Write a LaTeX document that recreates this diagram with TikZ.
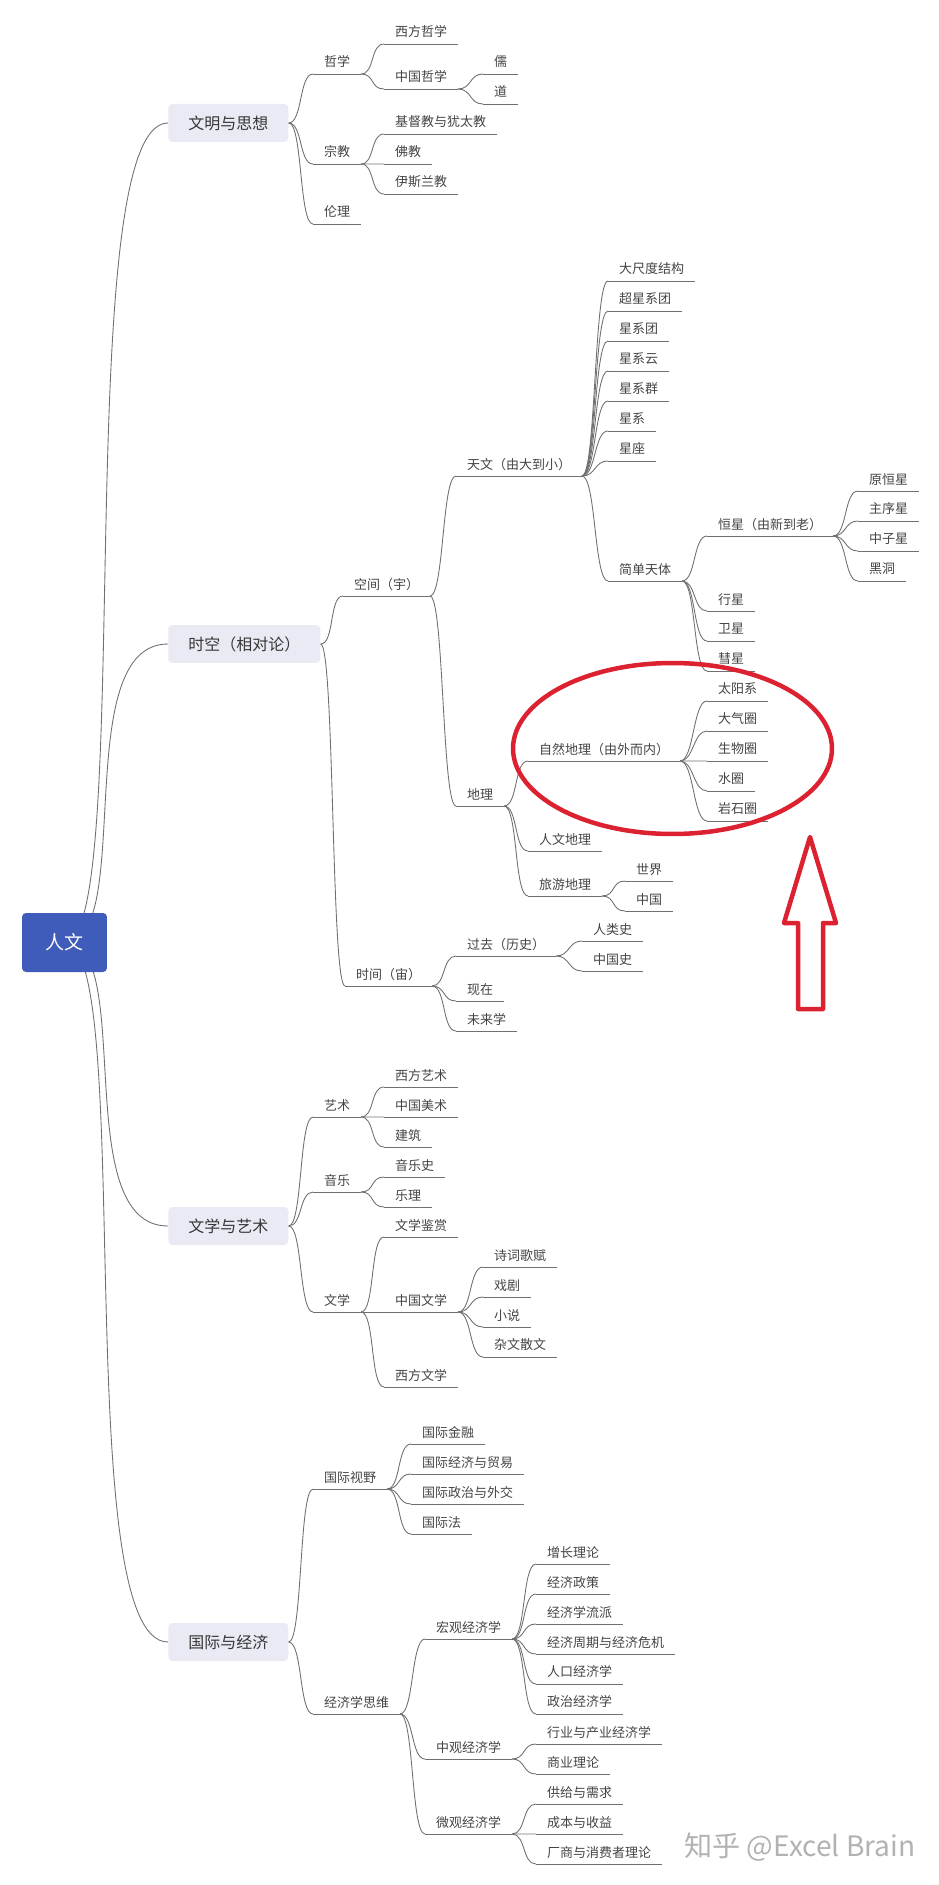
\documentclass[tikz,border=0pt]{standalone}
\usepackage{fontspec}
\setmainfont{Noto Sans CJK SC}
\usetikzlibrary{shapes.geometric,positioning,backgrounds}
\definecolor{rootblue}{HTML}{405CBA}
\definecolor{mainfill}{HTML}{E9EAF3}
\definecolor{linegray}{HTML}{707070}
\definecolor{textgray}{HTML}{444444}
\definecolor{markred}{HTML}{DC2230}

\begin{document}
\begin{tikzpicture}[
    x=0.02cm, y=-0.02cm,
    root/.style={rectangle, fill=rootblue, rounded corners=0.08cm, minimum width=1.7cm, minimum height=1.18cm, text=white, font=\fontsize{10.8}{12}\selectfont},
    mainbox/.style={rectangle, fill=mainfill, rounded corners=0.08cm, anchor=west, inner xsep=0.4cm, inner ysep=0cm, minimum height=0.76cm, text=textgray!80!black, font=\fontsize{9.1}{11}\selectfont},
    topic/.style={rectangle, anchor=south west, inner xsep=0.22cm, inner ysep=0cm, outer sep=0cm, text height=0.46cm, text depth=0.14cm, text=textgray, font=\fontsize{7.4}{9}\selectfont,
        append after command={(\tikzlastnode.south west) edge[rule] (\tikzlastnode.south east)}},
    under/.style={below=0cm of #1.south west, anchor=north west},
    rule/.style={draw=linegray, line width=0.5pt, to path={-- (\tikztotarget)}},
    link/.style={draw=linegray, line width=0.5pt, to path={.. controls +(14,0) and +(-14,0) .. (\tikztotarget)}},
    trunk/.style={draw=linegray, line width=0.5pt, to path={.. controls +(72,0) and +(-100,0) .. (\tikztotarget)}},
    redmark/.style={draw=markred, line width=0.09cm, line join=round}
]
\useasboundingbox (0,0) rectangle (939,1885);

% Root and main branches
\node[root] (human) at (64.5,942.5) {人文};
\node[mainbox] (civ) at (168,123) {文明与思想};
\node[mainbox] (space) at (168,644) {时空（相对论）};
\node[mainbox] (arts) at (168,1226) {文学与艺术};
\node[mainbox] (econ) at (168,1642) {国际与经济};

% Civilisation
\node[topic] (phil) at (313,74) {哲学};
\node[topic] (westphil) at (384,44) {西方哲学};
\node[topic] (chinaphil) at (384,89) {中国哲学};
\node[topic] (ru) at (483,74) {儒};
\node[topic, under=ru] (dao) {道};
\node[topic] (relig) at (313,164) {宗教};
\node[topic] (christ) at (384,134) {基督教与犹太教};
\node[topic, under=christ] (buddh) {佛教};
\node[topic, under=buddh] (islam) {伊斯兰教};
\node[topic] (ethics) at (313,224) {伦理};

% Space
\node[topic] (spacepart) at (343,596) {空间（宇）};
\node[topic] (astro) at (456,476) {天文（由大到小）};
\node[topic] (scale) at (608,281) {大尺度结构};
\node[topic, under=scale] (superclu) {超星系团};
\node[topic, under=superclu] (cluster) {星系团};
\node[topic, under=cluster] (cloud) {星系云};
\node[topic, under=cloud] (group) {星系群};
\node[topic, under=group] (galaxy) {星系};
\node[topic, under=galaxy] (constel) {星座};
\node[topic] (simple) at (608,581) {简单天体};
\node[topic] (star) at (707,536) {恒星（由新到老）};
\node[topic] (proto) at (858,491) {原恒星};
\node[topic, under=proto] (mainseq) {主序星};
\node[topic, under=mainseq] (neutron) {中子星};
\node[topic, under=neutron] (hole) {黑洞};
\node[topic] (planet) at (707,611) {行星};
\node[topic, under=planet] (moon) {卫星};
\node[topic, under=moon] (comet) {彗星};
\node[topic, under=comet] (solar) {太阳系};
\node[topic, under=solar] (air) {大气圈};
\node[topic, under=air] (bio) {生物圈};
\node[topic, under=bio] (water) {水圈};
\node[topic, under=water] (rock) {岩石圈};
\node[topic] (geo) at (456,806) {地理};
\node[topic] (natgeo) at (528,761) {自然地理（由外而内）};
\node[topic] (humgeo) at (528,851) {人文地理};
\node[topic] (travel) at (528,896) {旅游地理};
\node[topic] (world) at (625,881) {世界};
\node[topic, under=world] (china) {中国};

% Time
\node[topic] (timepart) at (345,986) {时间（宙）};
\node[topic] (past) at (456,956) {过去（历史）};
\node[topic] (mankind) at (582,941) {人类史};
\node[topic, under=mankind] (chinahist) {中国史};
\node[topic] (now) at (456,1001) {现在};
\node[topic, under=now] (future) {未来学};

% Arts
\node[topic] (art) at (313,1117) {艺术};
\node[topic] (westart) at (384,1087) {西方艺术};
\node[topic, under=westart] (chinaart) {中国美术};
\node[topic, under=chinaart] (build) {建筑};
\node[topic] (music) at (313,1192) {音乐};
\node[topic] (musichist) at (384,1177) {音乐史};
\node[topic, under=musichist] (theory) {乐理};
\node[topic] (lit) at (313,1312) {文学};
\node[topic] (appraise) at (384,1237) {文学鉴赏};
\node[topic] (chinalit) at (384,1312) {中国文学};
\node[topic] (poem) at (483,1267) {诗词歌赋};
\node[topic, under=poem] (drama) {戏剧};
\node[topic, under=drama] (novel) {小说};
\node[topic, under=novel] (essay) {杂文散文};
\node[topic] (westlit) at (384,1387) {西方文学};

% Economy
\node[topic] (global) at (313,1489) {国际视野};
\node[topic] (finance) at (411,1444) {国际金融};
\node[topic, under=finance] (trade) {国际经济与贸易};
\node[topic, under=trade] (politics) {国际政治与外交};
\node[topic, under=politics] (law) {国际法};
\node[topic] (thinking) at (313,1714) {经济学思维};
\node[topic] (macro) at (425,1639) {宏观经济学};
\node[topic] (growth) at (536,1564) {增长理论};
\node[topic, under=growth] (policy) {经济政策};
\node[topic, under=policy] (school) {经济学流派};
\node[topic, under=school] (cycle) {经济周期与经济危机};
\node[topic, under=cycle] (popul) {人口经济学};
\node[topic, under=popul] (polecon) {政治经济学};
\node[topic] (meso) at (425,1759) {中观经济学};
\node[topic] (industry) at (536,1744) {行业与产业经济学};
\node[topic, under=industry] (business) {商业理论};
\node[topic] (micro) at (425,1834) {微观经济学};
\node[topic] (supply) at (536,1804) {供给与需求};
\node[topic, under=supply] (cost) {成本与收益};
\node[topic, under=cost] (firm) {厂商与消费者理论};

% Links
\begin{scope}[on background layer]
\path[trunk] (human.center) edge (civ.west) edge (space.west) edge (arts.west) edge (econ.west);
\end{scope}
\path[link] (civ.east) edge (phil.south west) edge (relig.south west) edge (ethics.south west);
\path[link] (phil.south east) edge (westphil.south west) edge (chinaphil.south west);
\path[link] (chinaphil.south east) edge (ru.south west) edge (dao.south west);
\path[link] (relig.south east) edge (christ.south west) edge (buddh.south west) edge (islam.south west);
\path[link] (space.east) edge (spacepart.south west) edge (timepart.south west);
\path[link] (spacepart.south east) edge (astro.south west) edge (geo.south west);
\path[link] (astro.south east) edge (scale.south west) edge (superclu.south west) edge (cluster.south west) edge (cloud.south west) edge (group.south west) edge (galaxy.south west) edge (constel.south west) edge (simple.south west);
\path[link] (simple.south east) edge (star.south west) edge (planet.south west) edge (moon.south west) edge (comet.south west);
\path[link] (star.south east) edge (proto.south west) edge (mainseq.south west) edge (neutron.south west) edge (hole.south west);
\path[link] (geo.south east) edge (natgeo.south west) edge (humgeo.south west) edge (travel.south west);
\path[link] (natgeo.south east) edge (solar.south west) edge (air.south west) edge (bio.south west) edge (water.south west) edge (rock.south west);
\path[link] (travel.south east) edge (world.south west) edge (china.south west);
\path[link] (timepart.south east) edge (past.south west) edge (now.south west) edge (future.south west);
\path[link] (past.south east) edge (mankind.south west) edge (chinahist.south west);
\path[link] (arts.east) edge (art.south west) edge (music.south west) edge (lit.south west);
\path[link] (art.south east) edge (westart.south west) edge (chinaart.south west) edge (build.south west);
\path[link] (music.south east) edge (musichist.south west) edge (theory.south west);
\path[link] (lit.south east) edge (appraise.south west) edge (chinalit.south west) edge (westlit.south west);
\path[link] (chinalit.south east) edge (poem.south west) edge (drama.south west) edge (novel.south west) edge (essay.south west);
\path[link] (econ.east) edge (global.south west) edge (thinking.south west);
\path[link] (global.south east) edge (finance.south west) edge (trade.south west) edge (politics.south west) edge (law.south west);
\path[link] (thinking.south east) edge (macro.south west) edge (meso.south west) edge (micro.south west);
\path[link] (macro.south east) edge (growth.south west) edge (policy.south west) edge (school.south west) edge (cycle.south west) edge (popul.south west) edge (polecon.south west);
\path[link] (meso.south east) edge (industry.south west) edge (business.south west);
\path[link] (micro.south east) edge (supply.south west) edge (cost.south west) edge (firm.south west);

% Red marks
\node[ellipse, redmark, minimum width=6.38cm, minimum height=3.42cm, inner sep=0cm] (ring) at (672.5,748.5) {};
\draw[redmark] (810,837) -- (836,923) -- (823,923) -- (823,1009) -- (798,1009) -- (798,923) -- (784,923) -- cycle;

% Watermark
\node[anchor=west, inner sep=0cm, text=black!30, font=\fontsize{16}{18}\selectfont] (brand) at (684,1847) {知乎 @Excel Brain};

\end{tikzpicture}
\end{document}
